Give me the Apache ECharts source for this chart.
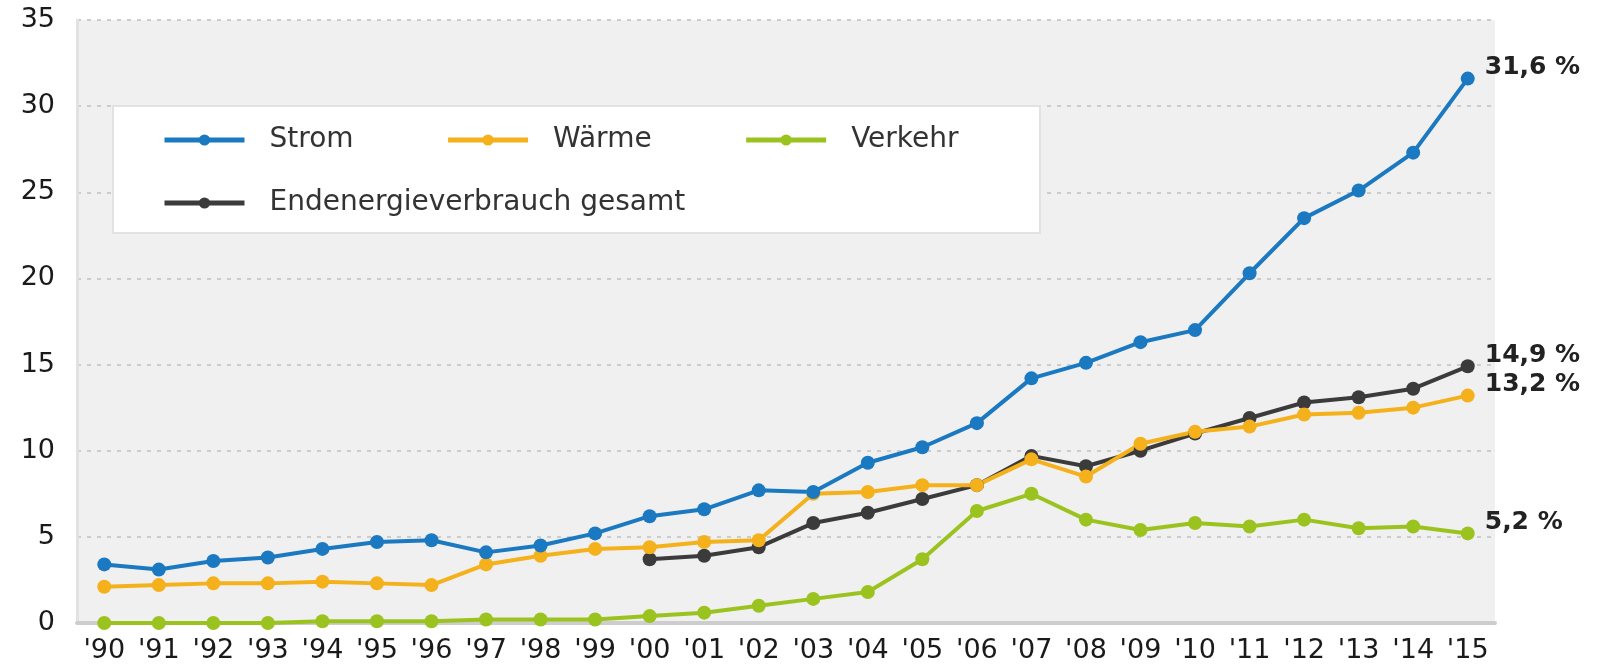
<!DOCTYPE html>
<html>
<head>
<meta charset="utf-8">
<script src="https://cdn.jsdelivr.net/npm/echarts@6/dist/echarts.min.js"></script>
<style>
  html, body { margin: 0; padding: 0; background: #fff; }
</style>
</head>
<body>
<div id="chart" style="width: 1598px;height:667px;"></div>
<script>
// Erneuerbare Anteile in %, 1990 - 2015
const years = ["'90","'91","'92","'93","'94","'95","'96","'97","'98","'99","'00","'01","'02",
  "'03","'04","'05","'06","'07","'08","'09","'10","'11","'12","'13","'14","'15"];

const strom = [3.4, 3.1, 3.6, 3.8, 4.3, 4.7, 4.8, 4.1, 4.5, 5.2, 6.2, 6.6, 7.7,
  7.6, 9.3, 10.2, 11.6, 14.2, 15.1, 16.3, 17.0, 20.3, 23.5, 25.1, 27.3, 31.6];
const waerme = [2.1, 2.2, 2.3, 2.3, 2.4, 2.3, 2.2, 3.4, 3.9, 4.3, 4.4, 4.7, 4.8,
  7.5, 7.6, 8.0, 8.0, 9.5, 8.5, 10.4, 11.1, 11.4, 12.1, 12.2, 12.5, 13.2];
const verkehr = [0.0, 0.0, 0.0, 0.0, 0.1, 0.1, 0.1, 0.2, 0.2, 0.2, 0.4, 0.6, 1.0,
  1.4, 1.8, 3.7, 6.5, 7.5, 6.0, 5.4, 5.8, 5.6, 6.0, 5.5, 5.6, 5.2];
const gesamt = [null, null, null, null, null, null, null, null, null, null, 3.7, 3.9, 4.4,
  5.8, 6.4, 7.2, 8.0, 9.7, 9.1, 10.0, 11.0, 11.9, 12.8, 13.1, 13.6, 14.9];

const endLabels = ['31,6 %', '13,2 %', '5,2 %', '14,9 %'];
const yTicks = [0, 5, 10, 15, 20, 25, 30, 35];

const font = '"DejaVu Sans", sans-serif';

function lineSeries(name, data, color, endLabel) {
  return {
    name,
    type: 'line',
    data,
    symbol: 'circle',
    symbolSize: 14,
    showAllSymbol: true,
    connectNulls: false,
    color,
    lineStyle: { width: 4, color },
    itemStyle: { color },
    label: {
      show: true,
      position: 'right',
      distance: 10,
      offset: [0, -11],
      fontFamily: font,
      fontWeight: 'bold',
      fontSize: 25,
      color: '#222',
      formatter: p => p.dataIndex === data.length - 1 ? endLabel : ''
    },
    emphasis: { disabled: true }
  };
}

var legendText = { fontFamily: font, fontSize: 28, color: '#333', padding: [0, 0, 0, 20] };

var myChart = echarts.init(document.getElementById('chart'));
var option = {
  animation: false,
  backgroundColor: '#fff',
  grid: {
    left: 77,
    right: 103,
    top: 20,
    bottom: 44,
    show: true,
    backgroundColor: '#f0f0f0',
    borderWidth: 0
  },
  graphic: [{
    type: 'rect',
    z: 3,
    shape: { x: 113, y: 106, width: 927, height: 127 },
    style: { fill: '#fff', stroke: '#e2e2e2', lineWidth: 2 }
  }],
  legend: [
    {
      data: ['Strom', 'Wärme', 'Verkehr'],
      left: 157,
      top: 121,
      z: 5,
      itemWidth: 80,
      itemHeight: 14,
      itemGap: 92,
      lineStyle: { width: 5 },
      textStyle: legendText
    },
    {
      data: ['Endenergieverbrauch gesamt'],
      left: 157,
      top: 184,
      z: 5,
      itemWidth: 80,
      itemHeight: 14,
      lineStyle: { width: 5 },
      textStyle: legendText
    }
  ],
  xAxis: {
    type: 'category',
    data: years,
    boundaryGap: true,
    axisTick: { show: false },
    axisLine: { lineStyle: { color: '#cdcdcd', width: 4 } },
    axisLabel: { fontFamily: font, fontSize: 27, color: '#1a1a1a', margin: 14, interval: 0 }
  },
  yAxis: {
    type: 'value',
    min: yTicks[0],
    max: yTicks[yTicks.length - 1],
    interval: 5,
    axisLine: { show: true, lineStyle: { color: '#e2e2e2', width: 3 } },
    axisTick: { show: false },
    axisLabel: { fontFamily: font, fontSize: 27, color: '#1a1a1a', margin: 22 },
    splitLine: { lineStyle: { color: '#cccccc', width: 2, type: [4, 6] } }
  },
  series: [
    lineSeries('Endenergieverbrauch gesamt', gesamt, '#3b3b3b', endLabels[3]),
    lineSeries('Verkehr', verkehr, '#9bc320', endLabels[2]),
    lineSeries('Wärme', waerme, '#f4b11c', endLabels[1]),
    lineSeries('Strom', strom, '#1a79c0', endLabels[0])
  ]
};
option && myChart.setOption(option);
</script>
</body>
</html>
